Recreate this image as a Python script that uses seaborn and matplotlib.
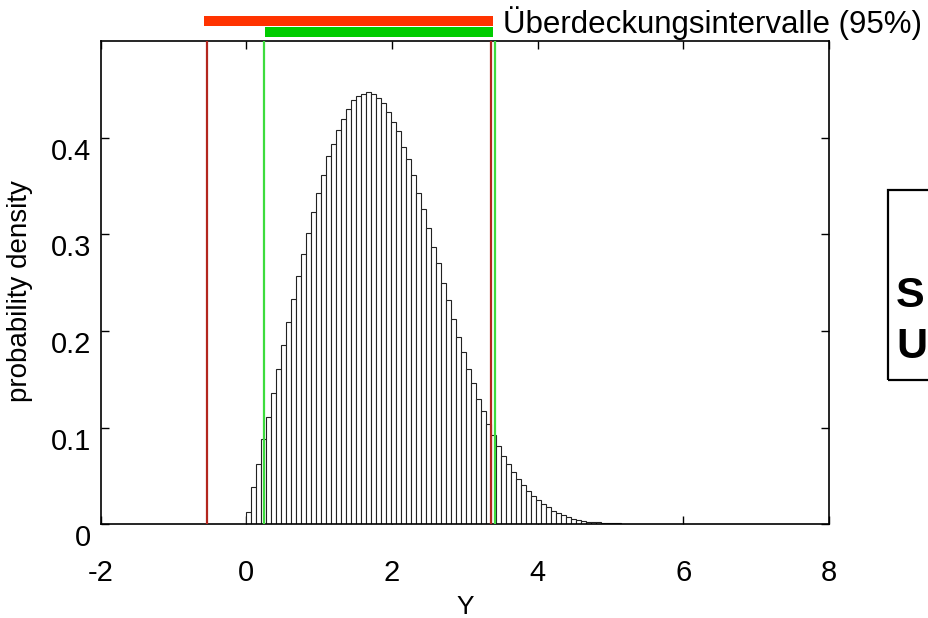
import numpy as np
import pandas as pd
import matplotlib
matplotlib.use("Agg")
import matplotlib.pyplot as plt
import matplotlib.transforms as mtransforms
from matplotlib.patches import Rectangle
import seaborn as sns

# ---- data ----
bin_start = 0.0
bin_width = 0.0686
density = [0.012, 0.038, 0.062, 0.088, 0.111, 0.136, 0.161, 0.185, 0.209, 0.233,
           0.257, 0.280, 0.302, 0.323, 0.343, 0.362, 0.381, 0.394, 0.408, 0.420,
           0.430, 0.439, 0.443, 0.446, 0.448, 0.445, 0.441, 0.436, 0.427, 0.416,
           0.407, 0.391, 0.378, 0.362, 0.343, 0.326, 0.307, 0.287, 0.270, 0.250,
           0.232, 0.212, 0.194, 0.178, 0.161, 0.146, 0.130, 0.117, 0.104, 0.092,
           0.081, 0.071, 0.062, 0.054, 0.047, 0.040, 0.034, 0.029, 0.025, 0.021,
           0.018, 0.014, 0.011, 0.009, 0.007, 0.005, 0.004, 0.003, 0.0025, 0.002,
           0.0017, 0.0014, 0.0011, 0.0008, 0.0006]
red_interval = [-0.54, 3.365]     # coverage interval 1
green_interval = [0.243, 3.412]   # coverage interval 2
red_bar = [-0.578, 3.387]
green_bar = [0.254, 3.387]
x_ticks = [-2, 0, 2, 4, 6, 8]
y_ticks = [0, 0.1, 0.2, 0.3, 0.4]
y_tick_labels = ["0", "0.1", "0.2", "0.3", "0.4"]
legend_text = "Überdeckungsintervalle (95%)"
box_letters = ["S", "U"]

sns.set_style("white")
plt.rcParams["font.family"] = ["Liberation Sans", "DejaVu Sans"]
plt.rcParams["text.color"] = "black"
plt.rcParams["axes.labelcolor"] = "black"
plt.rcParams["xtick.color"] = "black"
plt.rcParams["ytick.color"] = "black"

n_bins = len(density)
centers = bin_start + bin_width * (np.arange(n_bins) + 0.5)
df = pd.DataFrame({"Y": centers, "density": density})

fig = plt.figure(figsize=(9.29, 6.18), dpi=100)
ax = fig.add_axes([0.1083, 0.152, 0.7841, 0.781])

sns.histplot(data=df, x="Y", weights="density", binwidth=bin_width,
             binrange=(bin_start, bin_start + bin_width * n_bins), stat="count",
             color="white", edgecolor="#222222", linewidth=0.8, alpha=1.0, ax=ax)

red_line = "#b3261e"
green_line = "#3ddc3d"
for v in red_interval:
    ax.axvline(v, color=red_line, lw=1.6, zorder=5)
for v in green_interval:
    ax.axvline(v, color=green_line, lw=1.6, zorder=5)

trans = mtransforms.blended_transform_factory(ax.transData, ax.transAxes)
ax.add_patch(Rectangle((red_bar[0], 1.032), red_bar[1] - red_bar[0], 0.021,
                       transform=trans, color="#ff3300", clip_on=False, lw=0))
ax.add_patch(Rectangle((green_bar[0], 1.010), green_bar[1] - green_bar[0], 0.020,
                       transform=trans, color="#00cc00", clip_on=False, lw=0))
fig.text(0.541, 1 - 23 / 618, legend_text, fontsize=22.5, va="center", ha="left",
         color="black")

ax.set_xlim(-2, 8)
ax.set_ylim(0, 0.5)
ax.set_xticks(x_ticks)
ax.set_xticklabels([str(t) for t in x_ticks])
ax.set_yticks(y_ticks)
ax.set_yticklabels(y_tick_labels)
ax.tick_params(direction="in", top=True, right=True, bottom=True, left=True,
               length=6, width=1, labelsize=21, colors="black")
ax.tick_params(axis="x", pad=25)
ax.tick_params(axis="y", pad=7)
offset = mtransforms.ScaledTranslation(0, -11 / 100, fig.dpi_scale_trans)
for lab in ax.get_yticklabels():
    lab.set_transform(lab.get_transform() + offset)

ax.set_xlabel("Y", fontsize=19, labelpad=6)
ax.set_ylabel("probability density", fontsize=20)
ax.yaxis.set_label_coords(-0.093, 0.483)
for s in ax.spines.values():
    s.set_color("black")
    s.set_linewidth(1.2)

# clipped text box on the right edge
fig.patches.append(Rectangle((888 / 929, 1 - 380 / 618), 0.2, 190 / 618,
                             transform=fig.transFigure, fill=False,
                             edgecolor="black", lw=1.6))
fig.text(896 / 929, 1 - 296 / 618, box_letters[0], fontsize=31, fontweight="bold",
         va="center", ha="left")
fig.text(896 / 929, 1 - 347 / 618, box_letters[1], fontsize=31, fontweight="bold",
         va="center", ha="left")

fig.savefig("out.png", dpi=100)
